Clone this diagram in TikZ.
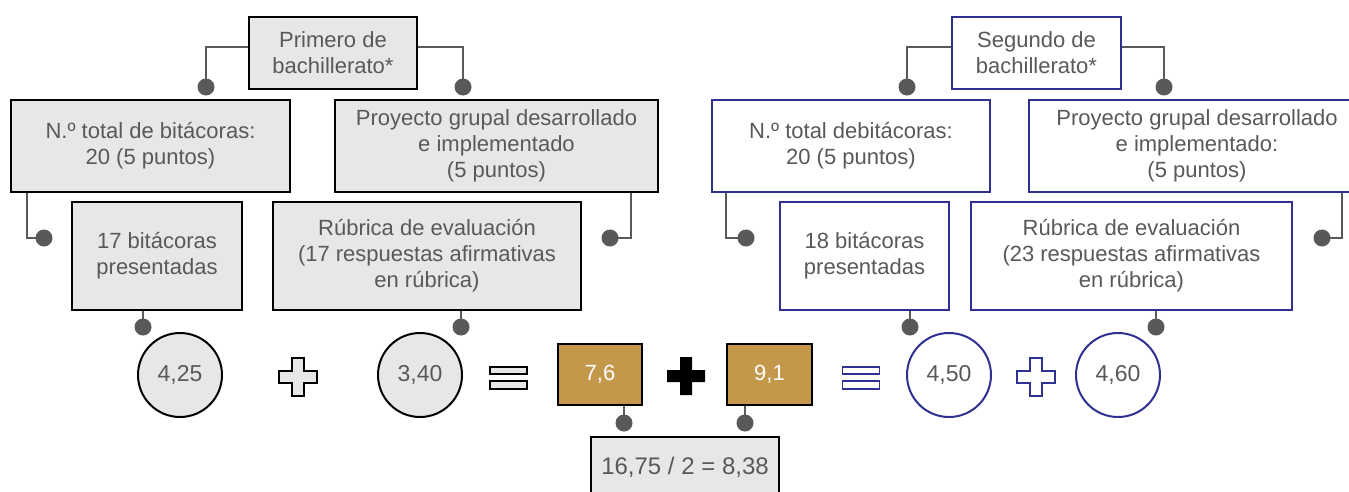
\documentclass[tikz,border=0pt]{standalone}
\usepackage{fontspec}
\setmainfont{Liberation Sans}
\usetikzlibrary{calc}
\definecolor{txt}{HTML}{58595B}
\definecolor{boxgray}{HTML}{E6E7E8}
\definecolor{gold}{HTML}{C4984B}
\definecolor{navy}{HTML}{2E3192}
\definecolor{conncol}{HTML}{58595B}
\begin{document}
\begin{tikzpicture}[x=1pt,y=-1pt,
  gbox/.style={draw=black, line width=2pt, fill=boxgray, text=txt, align=center,
    font=\fontsize{22}{26}\selectfont, inner sep=0pt},
  bbox/.style={draw=navy, line width=2pt, fill=white, text=txt, align=center,
    font=\fontsize{22}{26}\selectfont, inner sep=0pt},
  gcirc/.style={circle, draw=black, line width=2pt, fill=boxgray, minimum size=84pt,
    text=txt, font=\fontsize{23}{26}\selectfont, inner sep=0pt},
  bcirc/.style={circle, draw=navy, line width=2pt, fill=white, minimum size=84pt,
    text=txt, font=\fontsize{23}{26}\selectfont, inner sep=0pt},
  goldbox/.style={draw=black, line width=2.5pt, fill=gold, text=white,
    font=\fontsize{22}{26}\selectfont, inner sep=0pt},
  conn/.style={draw=conncol, line width=2.5pt},
  dotc/.style={fill=conncol},
  plusshape/.pic={\path[pic actions] (-6,-19) -- (6,-19) -- (6,-6) -- (19,-6) -- (19,6) -- (6,6) -- (6,19) -- (-6,19) -- (-6,6) -- (-19,6) -- (-19,-6) -- (-6,-6) -- cycle;},
  eqshape/.pic={\path[pic actions] (-18.5,-11) rectangle (18.5,-4) (-18.5,3) rectangle (18.5,11);}
]
\useasboundingbox (0,0) rectangle (1349,491);
\clip (0,0) rectangle (1349,491);

% ---------- left side ----------
\node[gbox, minimum width=168pt, minimum height=72pt] (a1) at (333,53) {Primero de\\bachillerato*};
\node[gbox, minimum width=279pt, minimum height=92pt] (b1) at (150.5,146) {N.º total de bitácoras:\\20 (5 puntos)};
\node[gbox, minimum width=323pt, minimum height=92pt] (b2) at (496.5,146) {Proyecto grupal desarrollado\\e implementado\\(5 puntos)};
\node[gbox, minimum width=170pt, minimum height=108pt] (c1) at (157,256) {17 bitácoras\\presentadas};
\node[gbox, minimum width=308pt, minimum height=108pt] (c2) at (427,256) {Rúbrica de evaluación\\(17 respuestas afirmativas\\en rúbrica)};
\node[gcirc] (n1) at (180,375) {4,25};
\node[gcirc] (n2) at (420,375) {3,40};

% ---------- middle ----------
\node[goldbox, minimum width=84pt, minimum height=61pt] (g1) at (600,374.5) {7,6};
\node[goldbox, minimum width=85pt, minimum height=61pt] (g2) at (769.5,374.5) {9,1};
\node[gbox, minimum width=188pt, minimum height=60pt, font=\fontsize{24}{28}\selectfont] (dres) at (685,467) {16,75 / 2 = 8,38};

% ---------- right side ----------
\node[bbox, minimum width=169pt, minimum height=72pt] (a2) at (1036.5,53) {Segundo de\\bachillerato*};
\node[bbox, minimum width=278pt, minimum height=92pt] (b3) at (851,146) {N.º total debitácoras:\\20 (5 puntos)};
\node[bbox, minimum width=336pt, minimum height=92pt] (b4) at (1197,146) {Proyecto grupal desarrollado\\e implementado:\\(5 puntos)};
\node[bbox, minimum width=169pt, minimum height=108pt] (c3) at (864.5,256) {18 bitácoras\\presentadas};
\node[bbox, minimum width=321pt, minimum height=108pt] (c4) at (1131.5,256) {Rúbrica de evaluación\\(23 respuestas afirmativas\\en rúbrica)};
\node[bcirc] (n3) at (949,375) {4,50};
\node[bcirc] (n4) at (1118,375) {4,60};

% ---------- operators ----------
\pic[draw=black, fill=boxgray, line width=1.5pt] at (298,377) {plusshape};
\pic[draw=black, fill=boxgray, line width=1.5pt] at (508.5,378) {eqshape};
\pic[fill=black] at (686,376) {plusshape};
\pic[draw=navy, fill=white, line width=1.5pt] at (861,378) {eqshape};
\pic[draw=navy, fill=white, line width=1.5pt] at (1036,377) {plusshape};

% ---------- connectors ----------
\coordinate (p1) at (206,87);
\coordinate (p2) at (463,87);
\coordinate (p3) at (44,238);
\coordinate (p4) at (610,238);
\coordinate (p5) at (143,327);
\coordinate (p6) at (461,327);
\coordinate (p7) at (907,87);
\coordinate (p8) at (1164,87);
\coordinate (p9) at (746,238);
\coordinate (p10) at (1322,238);
\coordinate (p11) at (910,327);
\coordinate (p12) at (1156,327);
\coordinate (p13) at (624,423);
\coordinate (p14) at (745,423);

\draw[conn] ([yshift=6pt]a1.west) -| (p1);
\draw[conn] ([yshift=6pt]a1.east) -| (p2);
\draw[conn] ([xshift=17pt]b1.south west) |- (p3);
\draw[conn] ([xshift=-28pt]b2.south east) |- (p4);
\draw[conn] (c1.south -| p5) -- (p5);
\draw[conn] (c2.south -| p6) -- (p6);
\draw[conn] ([yshift=6pt]a2.west) -| (p7);
\draw[conn] ([yshift=6pt]a2.east) -| (p8);
\draw[conn] ([xshift=15pt]b3.south west) |- (p9);
\draw[conn] ([xshift=-24pt]b4.south east) |- (p10);
\draw[conn] (c3.south -| p11) -- (p11);
\draw[conn] (c4.south -| p12) -- (p12);
\draw[conn] (g1.south -| p13) -- (p13);
\draw[conn] (g2.south -| p14) -- (p14);

\foreach \p in {p1,p2,p3,p4,p5,p6,p7,p8,p9,p10,p11,p12,p13,p14}
  \fill[dotc] (\p) circle (8.5);
\end{tikzpicture}
\end{document}
